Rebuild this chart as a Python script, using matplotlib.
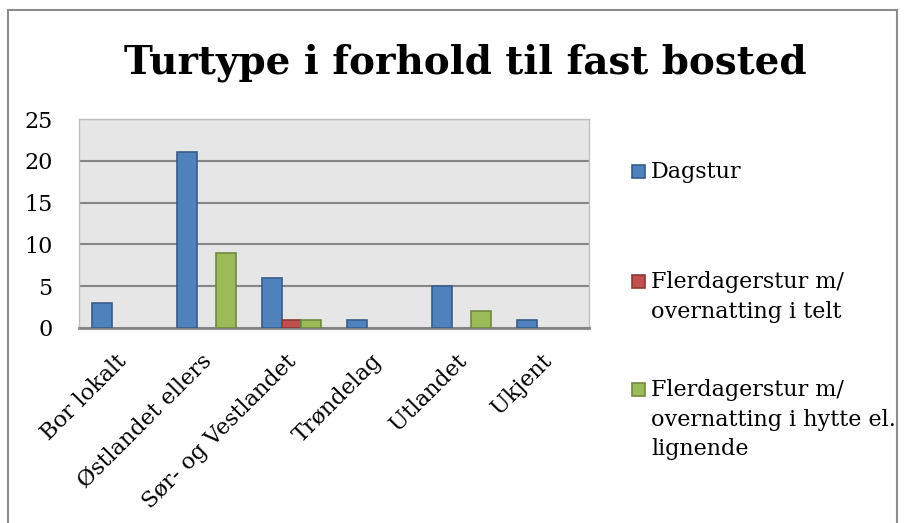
import matplotlib
matplotlib.use("Agg")
import matplotlib.pyplot as plt
import matplotlib.transforms as mtransforms
import numpy as np
from matplotlib.patches import Rectangle

# data
categories = ["Bor lokalt", "Østlandet ellers", "Sør- og Vestlandet",
              "Trøndelag", "Utlandet", "Ukjent"]
dagstur = [3, 21, 6, 1, 5, 1]
telt = [0, 0, 1, 0, 0, 0]
hytte = [0, 9, 1, 0, 2, 0]
series_names = ["Dagstur",
                "Flerdagerstur m/\novernatting i telt",
                "Flerdagerstur m/\novernatting i hytte el.\nlignende"]
yticks = [0, 5, 10, 15, 20, 25]

faces = ["#4f81bd", "#c0504d", "#9bbb59"]
edges = ["#385d8a", "#8c3836", "#71893f"]
font = "DejaVu Serif"

W, H = 909, 523
fig = plt.figure(figsize=(W / 100, H / 100), dpi=100)

# outer chart border
fig.patches.append(Rectangle((8 / W, -0.01), (897 - 8) / W, 1 - 10 / H + 0.01,
                             transform=fig.transFigure, fill=False,
                             edgecolor="#8c8c8c", lw=1.5))

ax = fig.add_axes([79 / W, 1 - 328 / H, (589 - 79) / W, (328 - 119) / H])
ax.set_facecolor("#e6e6e6")

x = np.arange(len(categories))
w = 0.23
for i, vals in enumerate([dagstur, telt, hytte]):
    bars = ax.bar(x + (i - 1) * w, vals, w, color=faces[i], edgecolor=edges[i],
                  linewidth=1.2, zorder=3)
    for b, v in zip(bars, vals):
        if v == 0:
            b.set_visible(False)

ax.set_xlim(-0.5, len(categories) - 0.5)
ax.set_ylim(0, 25)
ax.set_yticks(yticks)
ax.set_yticklabels([str(t) for t in yticks], fontsize=16, family=font)
ax.yaxis.grid(True, color="#868686", lw=1.5, zorder=1)
ax.tick_params(axis="y", length=0, pad=19)
ax.tick_params(axis="x", length=0, pad=16)
ax.set_xticks(x)
ax.set_xticklabels(categories, rotation=45, ha="right", rotation_mode="anchor",
                   fontsize=16, family=font)
shift = mtransforms.ScaledTranslation(-6 / 100, 0, fig.dpi_scale_trans)
for lbl in ax.get_xticklabels():
    lbl.set_transform(lbl.get_transform() + shift)
for s in ["top", "right", "left"]:
    ax.spines[s].set_color("#bfbfbf")
    ax.spines[s].set_linewidth(1)
ax.spines["bottom"].set_color("#868686")
ax.spines["bottom"].set_linewidth(2)

fig.text(465 / W, 1 - 63 / H, "Turtype i forhold til fast bosted",
         ha="center", va="center", fontsize=28, fontweight="bold", family=font)

# legend
leg_y = [172, 282, 390]
for i in range(3):
    fig.patches.append(Rectangle((632 / W, 1 - (leg_y[i] + 6) / H), 13 / W, 13 / H,
                                 transform=fig.transFigure, facecolor=faces[i],
                                 edgecolor=edges[i], lw=1.2))
    fig.text(651 / W, 1 - (leg_y[i] - 11) / H, series_names[i], ha="left", va="top",
             fontsize=16, family=font, linespacing=1.45)

fig.savefig("out.png", dpi=100)
